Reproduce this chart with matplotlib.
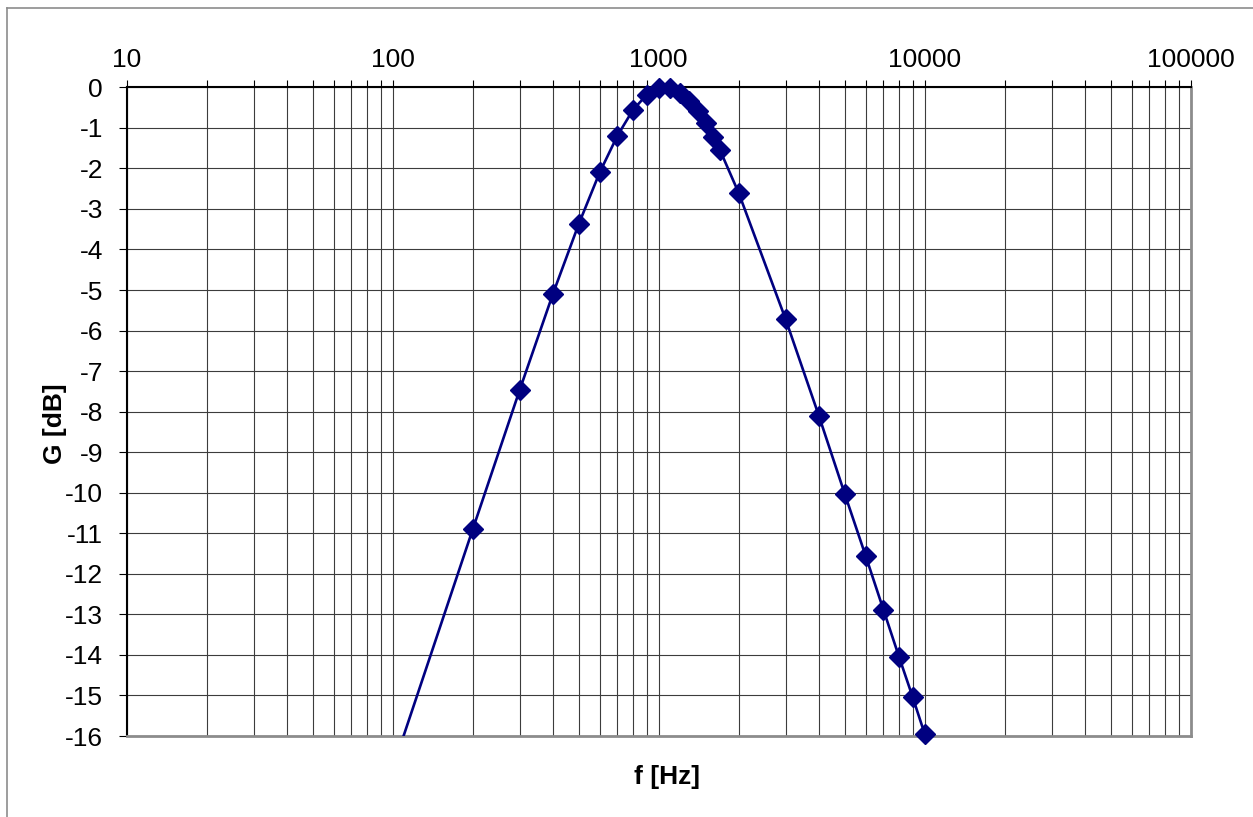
import matplotlib
matplotlib.use("Agg")
import matplotlib.pyplot as plt
from matplotlib.lines import Line2D
from matplotlib.ticker import LogLocator, FixedLocator, NullFormatter

plt.rcParams['font.family'] = ['Liberation Sans', 'DejaVu Sans']

# measured response: frequency [Hz] and gain [dB]
freq = [100, 200, 300, 400, 500, 600, 700, 800, 900, 1000, 1100, 1200, 1300,
        1400, 1500, 1600, 1700, 2000, 3000, 4000, 5000, 6000, 7000, 8000,
        9000, 10000]
gain = [-16.8, -10.9, -7.47, -5.1, -3.38, -2.1, -1.19, -0.56, -0.19, -0.02,
        -0.02, -0.13, -0.34, -0.58, -0.87, -1.22, -1.55, -2.61, -5.72, -8.1,
        -10.02, -11.56, -12.89, -14.04, -15.03, -15.95]

x_ticks = [10, 100, 1000, 10000, 100000]
x_labels = ["10", "100", "1000", "10000", "100000"]
y_ticks = list(range(-16, 1))

W, H = 1253, 817
fig = plt.figure(figsize=(W / 100, H / 100), dpi=100)
ax = fig.add_axes([126.7 / W, 1 - 736 / H, (1190.7 - 126.7) / W, (736 - 87.3) / H])

ax.set_xscale("log")
ax.set_xlim(10, 100000)
ax.set_ylim(-16, 0)

# line is clipped to the plot area, markers inside the range are drawn whole
ax.plot(freq, gain, color="#000080", lw=1.9, zorder=5)
mf = [f for f, g in zip(freq, gain) if g >= -16]
mg = [g for g in gain if g >= -16]
ax.plot(mf, mg, ls="none", marker="D", markersize=10.5, color="#000080",
        clip_on=False, zorder=6)

ax.xaxis.set_major_locator(FixedLocator(x_ticks))
ax.set_xticklabels(x_labels)
ax.xaxis.set_minor_locator(LogLocator(base=10, subs=range(2, 10), numticks=20))
ax.xaxis.set_minor_formatter(NullFormatter())
ax.set_yticks(y_ticks)
ax.set_yticklabels([str(v) for v in y_ticks])

ax.xaxis.tick_top()
ax.tick_params(axis="x", which="both", direction="out", length=5, width=0.8,
               labelsize=19, pad=6, colors="black")
ax.tick_params(axis="y", which="major", direction="out", length=6, width=0.8,
               labelsize=19, pad=11)

ax.grid(True, which="major", color="#3c3c3c", lw=0.8)
ax.grid(True, which="minor", axis="x", color="#3c3c3c", lw=0.8)
ax.set_axisbelow(True)

ax.spines["top"].set_color("black")
ax.spines["top"].set_linewidth(1.5)
ax.spines["left"].set_color("black")
ax.spines["left"].set_linewidth(1.5)
ax.spines["bottom"].set_color("#8c8c8c")
ax.spines["bottom"].set_linewidth(2)
ax.spines["right"].set_color("#8c8c8c")
ax.spines["right"].set_linewidth(2)

fig.text(667 / W, 1 - 777 / H, "f [Hz]", fontsize=19, fontweight="bold",
         ha="center", va="center")
fig.text(55 / W, 1 - 424 / H, "G [dB]", fontsize=19, fontweight="bold",
         ha="center", va="center", rotation=90)

# outer chart border (left and top visible)
fig.add_artist(Line2D([6.5 / W, 6.5 / W], [0, 1 - 8 / H], color="#8c8c8c", lw=1.2))
fig.add_artist(Line2D([6.5 / W, 1], [1 - 8 / H, 1 - 8 / H], color="#8c8c8c", lw=1.2))

fig.savefig("out.png", dpi=100)
